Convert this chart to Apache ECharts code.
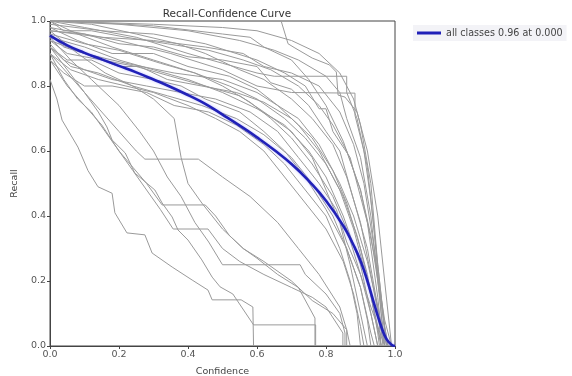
<!DOCTYPE html>
<html>
<head>
<meta charset="utf-8">
<script src="https://cdn.jsdelivr.net/npm/echarts@6/dist/echarts.min.js"></script>
<style>
  html, body { margin: 0; padding: 0; background: #fff; }
  #chart { width: 572px; height: 376px; }
</style>
</head>
<body>
<div id="chart"></div>
<script>
// mean curve over all classes (confidence, recall)
const meanConf = [0, 0.05, 0.1, 0.15, 0.2, 0.25, 0.3, 0.35, 0.4, 0.45, 0.5, 0.55, 0.6, 0.65, 0.7, 0.75, 0.8, 0.85, 0.88, 0.9, 0.92, 0.94, 0.96, 0.975, 0.99, 1.0];
const meanRecall = [0.955, 0.925, 0.902, 0.882, 0.862, 0.842, 0.82, 0.797, 0.772, 0.745, 0.712, 0.678, 0.642, 0.603, 0.56, 0.508, 0.447, 0.37, 0.31, 0.262, 0.2, 0.128, 0.06, 0.022, 0.004, 0];

// per-class curves, [confidence, recall]
const cls01 = [[0,1],[0.67,1],[0.69,0.93],[0.71,0.917],[0.76,0.886],[0.81,0.865],[0.83,0.843],[0.835,0.772],[0.855,0.766],[0.89,0.72],[0.9,0.68],[0.93,0.5],[0.95,0.25],[0.97,0.06],[0.98,0]];
const cls02 = [[0,1],[0.2,0.99],[0.4,0.97],[0.55,0.94],[0.65,0.91],[0.72,0.88],[0.8,0.83],[0.84,0.78],[0.86,0.7],[0.9,0.58],[0.93,0.4],[0.95,0.2],[0.97,0]];
const cls03 = [[0,0.99],[0.15,0.97],[0.3,0.96],[0.45,0.93],[0.6,0.88],[0.68,0.84],[0.74,0.8],[0.78,0.73],[0.8,0.73],[0.82,0.66],[0.87,0.58],[0.92,0.38],[0.95,0.15],[0.965,0]];
const cls04 = [[0,1],[0.1,0.98],[0.25,0.95],[0.4,0.9],[0.5,0.87],[0.6,0.84],[0.65,0.83],[0.86,0.83],[0.86,0.78],[0.89,0.7],[0.92,0.55],[0.94,0.35],[0.96,0.1],[0.97,0]];
const cls05 = [[0,0.98],[0.2,0.94],[0.35,0.9],[0.5,0.85],[0.6,0.8],[0.7,0.78],[0.884,0.778],[0.884,0.71],[0.91,0.6],[0.93,0.45],[0.95,0.25],[0.97,0.05],[0.975,0]];
const cls06 = [[0,1],[0.05,1],[0.3,0.985],[0.5,0.96],[0.58,0.95],[0.62,0.92],[0.7,0.88],[0.75,0.82],[0.8,0.74],[0.85,0.63],[0.9,0.48],[0.94,0.28],[0.97,0.08],[0.99,0]];
const cls07 = [[0,1],[0.12,0.99],[0.25,0.96],[0.37,0.93],[0.45,0.9],[0.55,0.85],[0.62,0.82],[0.7,0.76],[0.76,0.7],[0.82,0.62],[0.86,0.52],[0.9,0.38],[0.93,0.22],[0.96,0.05],[0.97,0]];
const cls08 = [[0,0.97],[0.1,0.96],[0.2,0.93],[0.3,0.92],[0.4,0.89],[0.5,0.88],[0.6,0.86],[0.64,0.81],[0.7,0.79],[0.75,0.74],[0.8,0.66],[0.84,0.6],[0.88,0.45],[0.92,0.3],[0.95,0.12],[0.96,0]];
const cls09 = [[0,0.95],[0.1,0.92],[0.2,0.88],[0.3,0.85],[0.4,0.82],[0.5,0.78],[0.6,0.73],[0.68,0.68],[0.75,0.6],[0.8,0.52],[0.85,0.4],[0.9,0.25],[0.93,0.1],[0.95,0]];
const cls10 = [[0,0.94],[0.05,0.9],[0.15,0.88],[0.25,0.86],[0.35,0.83],[0.45,0.8],[0.55,0.77],[0.62,0.72],[0.7,0.66],[0.76,0.58],[0.8,0.48],[0.84,0.38],[0.87,0.25],[0.9,0.1],[0.92,0]];
const cls11 = [[0,0.92],[0.05,0.88],[0.12,0.88],[0.2,0.84],[0.3,0.82],[0.38,0.8],[0.45,0.76],[0.55,0.72],[0.62,0.66],[0.68,0.6],[0.74,0.52],[0.8,0.42],[0.86,0.3],[0.9,0.18],[0.93,0.04],[0.94,0]];
const cls12 = [[0,0.98],[0.08,0.94],[0.18,0.9],[0.3,0.9],[0.4,0.86],[0.52,0.83],[0.6,0.79],[0.66,0.74],[0.72,0.68],[0.78,0.6],[0.84,0.48],[0.88,0.36],[0.92,0.2],[0.95,0.06],[0.96,0]];
const cls13 = [[0,0.96],[0.1,0.93],[0.2,0.91],[0.32,0.87],[0.42,0.84],[0.5,0.8],[0.58,0.75],[0.64,0.7],[0.7,0.64],[0.76,0.56],[0.82,0.46],[0.86,0.36],[0.9,0.22],[0.93,0.1],[0.95,0]];
const cls14 = [[0,0.9],[0.06,0.85],[0.14,0.82],[0.22,0.8],[0.3,0.78],[0.4,0.74],[0.48,0.7],[0.55,0.66],[0.62,0.6],[0.68,0.52],[0.74,0.44],[0.8,0.36],[0.85,0.26],[0.88,0.16],[0.9,0.06],[0.91,0]];
const cls15 = [[0,0.93],[0.04,0.88],[0.1,0.85],[0.18,0.82],[0.28,0.8],[0.38,0.78],[0.48,0.76],[0.58,0.72],[0.66,0.66],[0.72,0.58],[0.78,0.5],[0.83,0.42],[0.86,0.32],[0.9,0.22],[0.93,0.12],[0.96,0.03],[0.97,0]];
const cls16 = [[0,0.92],[0.05,0.85],[0.1,0.78],[0.15,0.72],[0.2,0.66],[0.25,0.6],[0.275,0.575],[0.43,0.575],[0.5,0.52],[0.58,0.46],[0.66,0.38],[0.72,0.3],[0.78,0.22],[0.84,0.12],[0.86,0.05],[0.87,0]];
const cls17 = [[0,0.9],[0.04,0.82],[0.08,0.76],[0.12,0.72],[0.16,0.66],[0.2,0.6],[0.24,0.55],[0.28,0.5],[0.325,0.434],[0.45,0.434],[0.48,0.4],[0.52,0.34],[0.56,0.3],[0.6,0.27],[0.66,0.22],[0.72,0.18],[0.768,0.086],[0.768,0]];
const cls18 = [[0,0.88],[0.05,0.8],[0.1,0.74],[0.15,0.68],[0.2,0.6],[0.24,0.54],[0.28,0.48],[0.32,0.42],[0.357,0.36],[0.458,0.36],[0.5,0.3],[0.55,0.26],[0.62,0.22],[0.7,0.18],[0.76,0.15],[0.8,0.12],[0.849,0.04],[0.849,0]];
const cls19 = [[0,0.9],[0.05,0.84],[0.1,0.78],[0.14,0.72],[0.165,0.674],[0.18,0.634],[0.218,0.594],[0.246,0.532],[0.304,0.48],[0.325,0.44],[0.354,0.397],[0.371,0.357],[0.4,0.326],[0.44,0.265],[0.47,0.212],[0.493,0.182],[0.53,0.16],[0.59,0.065],[0.77,0.065],[0.77,0]];
const cls20 = [[0,0.82],[0.02,0.76],[0.035,0.695],[0.081,0.612],[0.11,0.54],[0.139,0.49],[0.18,0.47],[0.188,0.41],[0.223,0.348],[0.275,0.342],[0.296,0.286],[0.354,0.243],[0.412,0.203],[0.458,0.172],[0.47,0.142],[0.554,0.142],[0.588,0.12],[0.59,0]];
const cls21 = [[0,0.95],[0.06,0.88],[0.12,0.82],[0.2,0.74],[0.26,0.66],[0.3,0.6],[0.34,0.52],[0.38,0.46],[0.42,0.38],[0.46,0.32],[0.5,0.25],[0.725,0.25],[0.74,0.22],[0.8,0.16],[0.84,0.1],[0.855,0.04],[0.855,0]];
const cls22 = [[0,0.97],[0.08,0.9],[0.16,0.84],[0.24,0.8],[0.3,0.76],[0.36,0.7],[0.38,0.58],[0.4,0.5],[0.44,0.44],[0.5,0.36],[0.56,0.3],[0.62,0.26],[0.7,0.2],[0.76,0.14],[0.82,0.1],[0.86,0.05],[0.86,0]];
const cls23 = [[0,1],[0.08,0.96],[0.18,0.92],[0.3,0.88],[0.42,0.84],[0.52,0.8],[0.6,0.76],[0.68,0.7],[0.74,0.64],[0.8,0.56],[0.85,0.46],[0.89,0.34],[0.92,0.22],[0.94,0.1],[0.96,0]];
const cls24 = [[0,0.96],[0.04,0.92],[0.1,0.9],[0.2,0.86],[0.26,0.86],[0.34,0.82],[0.44,0.8],[0.54,0.78],[0.62,0.75],[0.7,0.7],[0.76,0.64],[0.82,0.54],[0.86,0.44],[0.9,0.3],[0.93,0.16],[0.95,0.04],[0.955,0]];
const cls25 = [[0,0.92],[0.06,0.86],[0.14,0.84],[0.24,0.8],[0.34,0.77],[0.44,0.74],[0.54,0.7],[0.62,0.65],[0.7,0.58],[0.76,0.5],[0.82,0.4],[0.86,0.3],[0.9,0.18],[0.92,0.08],[0.93,0]];
const cls26 = [[0,1],[0.04,0.97],[0.12,0.97],[0.22,0.95],[0.34,0.93],[0.46,0.91],[0.56,0.88],[0.64,0.85],[0.72,0.8],[0.78,0.74],[0.82,0.68],[0.86,0.6],[0.9,0.48],[0.93,0.34],[0.95,0.2],[0.97,0.06],[0.98,0]];
const cls27 = [[0,0.88],[0.04,0.84],[0.1,0.8],[0.18,0.8],[0.28,0.78],[0.36,0.74],[0.46,0.72],[0.54,0.68],[0.62,0.62],[0.68,0.56],[0.74,0.48],[0.8,0.4],[0.84,0.3],[0.87,0.2],[0.89,0.1],[0.9,0]];
const cls28 = [[0,0.94],[0.1,0.9],[0.22,0.87],[0.36,0.84],[0.5,0.82],[0.6,0.78],[0.66,0.74],[0.72,0.7],[0.78,0.62],[0.84,0.5],[0.88,0.4],[0.92,0.26],[0.95,0.12],[0.97,0.02],[0.98,0]];
const cls29 = [[0,1],[0.3,0.99],[0.5,0.98],[0.6,0.97],[0.7,0.94],[0.78,0.9],[0.84,0.84],[0.88,0.76],[0.92,0.6],[0.95,0.4],[0.97,0.2],[0.99,0]];
const cls30 = [[0,0.97],[0.15,0.95],[0.3,0.94],[0.45,0.92],[0.56,0.9],[0.62,0.86],[0.7,0.84],[0.78,0.8],[0.84,0.72],[0.88,0.62],[0.91,0.5],[0.94,0.3],[0.96,0.14],[0.975,0]];

const classCurves = [cls01, cls02, cls03, cls04, cls05, cls06, cls07, cls08, cls09, cls10,
  cls11, cls12, cls13, cls14, cls15, cls16, cls17, cls18, cls19, cls20,
  cls21, cls22, cls23, cls24, cls25, cls26, cls27, cls28, cls29, cls30];

const meanName = "all classes 0.96 at 0.000";

const chart = echarts.init(document.getElementById("chart"), null, { renderer: "canvas" });

function seriesData() {
  let tempList = [];
  classCurves.forEach((item, index) => {
    tempList.push({
      name: "class" + index,
      type: "line",
      data: item,
      showSymbol: false,
      silent: true,
      z: 2,
      lineStyle: { color: "#9a9a9a", width: 1 }
    });
  });
  tempList.push({
    name: meanName,
    type: "line",
    data: meanConf.map((c, i) => [c, meanRecall[i]]),
    smooth: 0.5,
    showSymbol: false,
    z: 5,
    itemStyle: { color: "#2121b8" },
    lineStyle: {
      color: "#2121b8",
      width: 2.6,
      shadowColor: "rgba(110,110,255,0.45)",
      shadowBlur: 3
    }
  });
  return tempList;
}

const axisLabelStyle = {
  color: "#555",
  fontSize: 9.5,
  fontFamily: "DejaVu Sans",
  formatter: v => v.toFixed(1)
};

const option = {
  animation: false,
  backgroundColor: "#fff",
  title: {
    text: "Recall-Confidence Curve",
    left: 222,
    textAlign: "center",
    top: 4,
    textStyle: { fontSize: 10.5, fontWeight: "normal", color: "#333", fontFamily: "DejaVu Sans" }
  },
  legend: {
    data: [meanName],
    left: 413,
    top: 25,
    padding: [3, 4],
    itemWidth: 24,
    itemHeight: 3,
    itemGap: 6,
    icon: "rect",
    backgroundColor: "#f3f3f7",
    textStyle: { fontSize: 9.6, color: "#444", fontFamily: "DejaVu Sans" }
  },
  grid: {
    left: 50,
    right: 177,
    top: 21,
    bottom: 30,
    outerBoundsMode: "none",
    containLabel: false,
    show: true,
    borderColor: "#444",
    borderWidth: 1
  },
  xAxis: {
    type: "value",
    min: 0,
    max: 1,
    interval: 0.2,
    name: "Confidence",
    nameLocation: "middle",
    nameGap: 21,
    nameTextStyle: { fontSize: 9.5, color: "#444", fontFamily: "DejaVu Sans" },
    axisLine: { show: true, lineStyle: { color: "#444" } },
    axisTick: { show: true, length: 3, lineStyle: { color: "#444" } },
    axisLabel: Object.assign({ margin: 4 }, axisLabelStyle),
    splitLine: { show: false }
  },
  yAxis: {
    type: "value",
    min: 0,
    max: 1,
    interval: 0.2,
    name: "Recall",
    nameLocation: "middle",
    nameGap: 28,
    nameTextStyle: { fontSize: 9.5, color: "#444", fontFamily: "DejaVu Sans" },
    axisLine: { show: true, lineStyle: { color: "#444" } },
    axisTick: { show: true, length: 3, lineStyle: { color: "#444" } },
    axisLabel: Object.assign({ margin: 4 }, axisLabelStyle),
    splitLine: { show: false }
  },
  series: seriesData()
};

chart.setOption(option);
</script>
</body>
</html>
